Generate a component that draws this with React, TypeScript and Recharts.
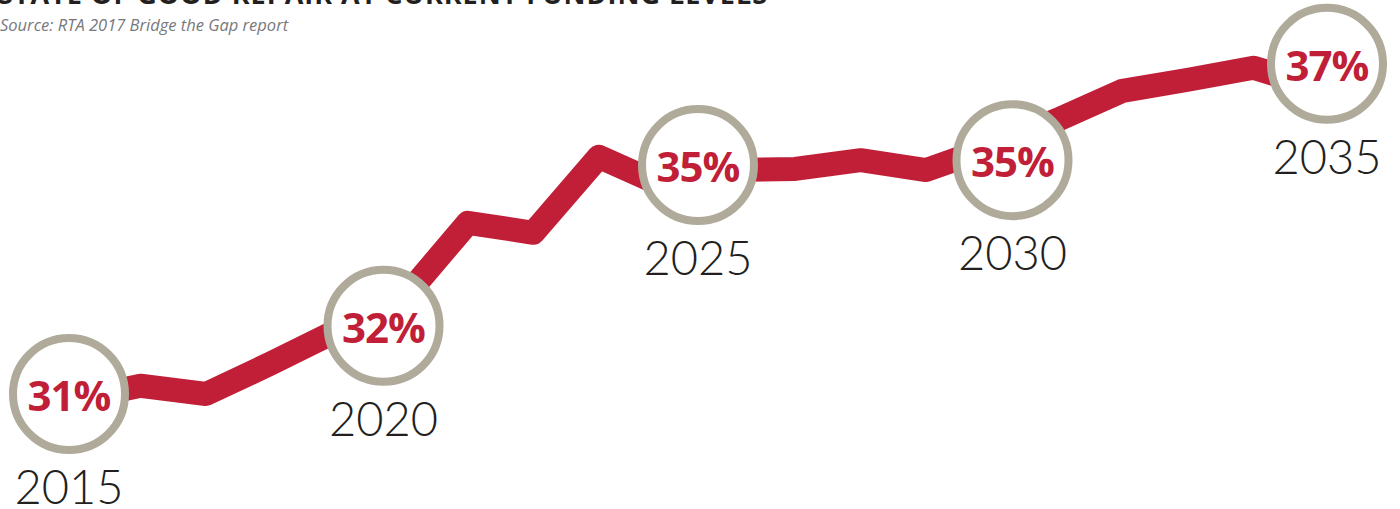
import { ComposedChart, Line, XAxis, YAxis } from 'recharts';

// annual state-of-good-repair share along the red line
const LINE_YEARS = [
  2015, 2016, 2017, 2018, 2019, 2020, 2021, 2022, 2023, 2024,
  2025, 2026, 2027, 2028, 2029, 2030, 2031, 2032, 2033, 2034,
];
const LINE_VALUES = [
  30.9, 31.15, 31.0, 31.56, 32.15, 32.71, 34.11, 33.93, 35.31, 34.78,
  35.07, 35.09, 35.25, 35.07, 35.49, 35.98, 36.51, 36.71, 36.93, 36.56,
];

// five-year milestones shown in circles
const MILESTONE_YEARS = [2015, 2020, 2025, 2030, 2035];
const MILESTONE_VALUES = [31.0, 32.24, 35.16, 35.25, 37.0];

const TITLE = 'STATE OF GOOD REPAIR AT CURRENT FUNDING LEVELS';
const SOURCE = 'Source: RTA 2017 Bridge the Gap report';

const RED = '#c01f37';
const RING = '#afaa99';

const lineData = LINE_YEARS.map((year, i) => ({ year, value: LINE_VALUES[i] }));
const milestoneData = MILESTONE_YEARS.map((year, i) => ({
  year,
  value: MILESTONE_VALUES[i],
}));

function Milestone(props: any) {
  const { cx, cy, payload } = props;
  if (cx == null || cy == null) return null;
  return (
    <g>
      <circle cx={cx} cy={cy} r={56} fill="#fff" stroke={RING} strokeWidth={8} />
      <text
        x={cx}
        y={cy + 17}
        textAnchor="middle"
        fill={RED}
        fontFamily="'Open Sans', sans-serif"
        fontWeight={700}
        fontSize={42}
        letterSpacing={-1}
      >
        {Math.round(payload.value)}%
      </text>
      <text
        x={cx}
        y={cy + 110}
        textAnchor="middle"
        fill="#231f20"
        fontFamily="Lato, sans-serif"
        fontWeight={300}
        fontSize={47}
      >
        {payload.year}
      </text>
    </g>
  );
}

export default function App() {
  return (
    <div style={{ position: 'absolute', left: 0, top: 0, width: 1400, height: 509 }}>
      <ComposedChart width={1400} height={509} margin={{ top: 0, right: 0, bottom: 0, left: 0 }}>
        <XAxis
          xAxisId="line"
          dataKey="year"
          type="number"
          domain={[2015, 2034]}
          padding={{ left: 75, right: 81 }}
          hide
        />
        <XAxis
          xAxisId="mark"
          dataKey="year"
          type="number"
          domain={[2015, 2035]}
          padding={{ left: 69, right: 73 }}
          hide
        />
        <YAxis dataKey="value" type="number" domain={[28.91, 38.16]} hide />
        <Line
          xAxisId="line"
          data={lineData}
          dataKey="value"
          type="linear"
          stroke={RED}
          strokeWidth={24}
          strokeLinejoin="round"
          dot={false}
          activeDot={false}
          isAnimationActive={false}
        />
        <Line
          xAxisId="mark"
          data={milestoneData}
          dataKey="value"
          stroke="none"
          dot={<Milestone />}
          activeDot={false}
          isAnimationActive={false}
        />
      </ComposedChart>
      <svg
        width={1400}
        height={509}
        style={{ position: 'absolute', left: 0, top: 0, pointerEvents: 'none' }}
      >
        <text
          x={-2}
          y={4}
          fill="#231f20"
          fontFamily="'Open Sans', sans-serif"
          fontWeight={700}
          fontSize={27}
          letterSpacing={1}
        >
          {TITLE}
        </text>
        <text
          x={0}
          y={31}
          fill="#77787b"
          fontFamily="'Open Sans', sans-serif"
          fontStyle="italic"
          fontSize={16.5}
        >
          {SOURCE}
        </text>
      </svg>
    </div>
  );
}
